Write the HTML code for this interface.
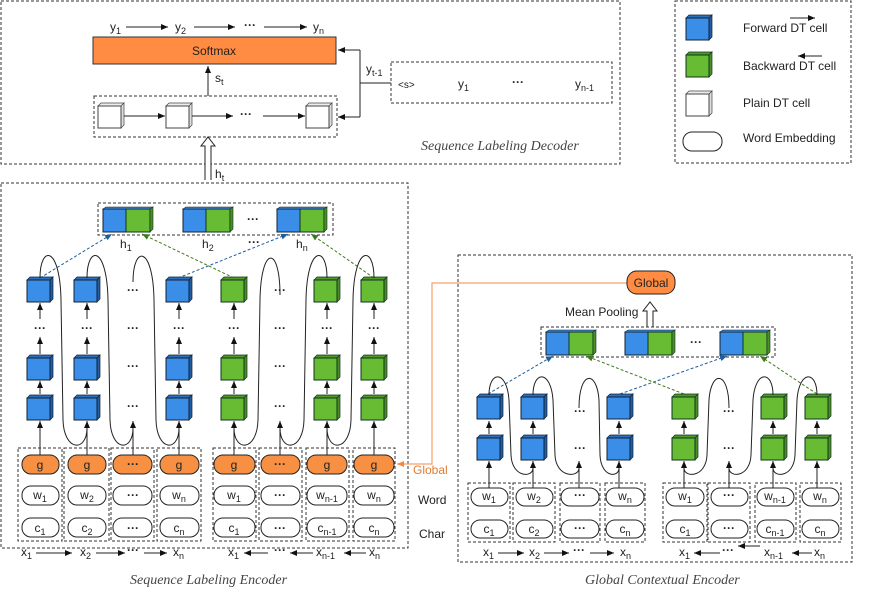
<!DOCTYPE html>
<html><head><meta charset="utf-8"><style>
body{margin:0;background:#fff}
svg{display:block;font-family:"Liberation Sans",sans-serif}
.t{font-size:12px;fill:#222}
.s{font-size:9px}
.b{font-weight:bold}
.it{font-family:"Liberation Serif",serif;font-style:italic;font-size:14px;fill:#444}
.dash{fill:none;stroke:#333;stroke-width:1;stroke-dasharray:3,2}
.ln{stroke:#222;stroke-width:1;fill:none}
.loop{stroke:#222;stroke-width:1;fill:none}
.pill{fill:#fff;stroke:#222;stroke-width:1}
.og{fill:#F79043;stroke:#222;stroke-width:1}
</style></head><body>
<svg width="872" height="593" viewBox="0 0 872 593" xmlns="http://www.w3.org/2000/svg">
<defs>
<marker id="a" markerWidth="8" markerHeight="8" refX="7" refY="4" orient="auto" markerUnits="userSpaceOnUse"><path d="M0,1 L7,4 L0,7 z" fill="#111"/></marker>
<marker id="ab" markerWidth="8" markerHeight="8" refX="7" refY="4" orient="auto" markerUnits="userSpaceOnUse"><path d="M0,1 L7,4 L0,7 z" fill="#1f5e9e"/></marker>
<marker id="ag" markerWidth="8" markerHeight="8" refX="7" refY="4" orient="auto" markerUnits="userSpaceOnUse"><path d="M0,1 L7,4 L0,7 z" fill="#3f7a1c"/></marker>
<marker id="ao" markerWidth="8" markerHeight="8" refX="7" refY="4" orient="auto" markerUnits="userSpaceOnUse"><path d="M0,1 L7,4 L0,7 z" fill="#F08A40"/></marker>
<g id="cb"><polygon points="0,3 3,0 26,0 23,3" fill="#2a6fc0" stroke="#123" stroke-width=".7"/><polygon points="23,3 26,0 26,22 23,25" fill="#1f5ea8" stroke="#123" stroke-width=".7"/><rect x="0" y="3" width="23" height="22" fill="#3A8EE8" stroke="#123" stroke-width="1"/></g>
<g id="cg"><polygon points="0,3 3,0 26,0 23,3" fill="#4f9a25" stroke="#132" stroke-width=".7"/><polygon points="23,3 26,0 26,22 23,25" fill="#4a8f22" stroke="#132" stroke-width=".7"/><rect x="0" y="3" width="23" height="22" fill="#68BC34" stroke="#132" stroke-width="1"/></g>
<g id="cw"><polygon points="0,3 3,0 26,0 23,3" fill="#eee" stroke="#444" stroke-width=".7"/><polygon points="23,3 26,0 26,22 23,25" fill="#ddd" stroke="#444" stroke-width=".7"/><rect x="0" y="3" width="23" height="22" fill="#fff" stroke="#444" stroke-width="1"/></g>
<g id="pb"><rect x="0" y="2" width="23" height="23" fill="#3A8EE8" stroke="#123"/><rect x="23" y="2" width="24" height="23" fill="#68BC34" stroke="#132"/><polygon points="0,2 3,0 50,0 47,2" fill="#3a7fc8" stroke="#123" stroke-width=".6"/><polygon points="47,2 50,0 50,22 47,25" fill="#4a8f22" stroke="#132" stroke-width=".6"/></g>
</defs>

<!-- ===== Decoder ===== -->
<rect class="dash" x="1" y="1" width="619" height="163"/>
<text class="t" x="110" y="31">y<tspan class="s" dy="3">1</tspan></text>
<line class="ln" x1="126" y1="27" x2="168" y2="27" marker-end="url(#a)"/>
<text class="t" x="175" y="31">y<tspan class="s" dy="3">2</tspan></text>
<line class="ln" x1="194" y1="27" x2="235" y2="27" marker-end="url(#a)"/>
<text class="t b" x="244" y="29">···</text>
<line class="ln" x1="264" y1="27" x2="307" y2="27" marker-end="url(#a)"/>
<text class="t" x="313" y="31">y<tspan class="s" dy="3">n</tspan></text>
<rect x="93" y="37" width="243" height="27" fill="#FF8C42" stroke="#333"/>
<text class="t" x="214" y="55" text-anchor="middle">Softmax</text>
<line class="ln" x1="208" y1="96" x2="208" y2="66" marker-end="url(#a)"/>
<text class="t" x="215" y="82">s<tspan class="s" dy="3">t</tspan></text>
<rect class="dash" x="94" y="96" width="243" height="41"/>
<use href="#cw" x="98" y="103"/><use href="#cw" x="166" y="103"/><use href="#cw" x="306" y="103"/>
<line class="ln" x1="124" y1="116" x2="165" y2="116" marker-end="url(#a)"/>
<line class="ln" x1="192" y1="116" x2="233" y2="116" marker-end="url(#a)"/>
<text class="t b" x="240" y="118">···</text>
<line class="ln" x1="263" y1="116" x2="305" y2="116" marker-end="url(#a)"/>
<path class="ln" d="M360,50 L360,117"/>
<line class="ln" x1="360" y1="50" x2="338" y2="50" marker-end="url(#a)"/>
<line class="ln" x1="360" y1="117" x2="338" y2="117" marker-end="url(#a)"/>
<line class="ln" x1="360" y1="83" x2="391" y2="83"/>
<text class="t" x="366" y="73">y<tspan class="s" dy="3">t-1</tspan></text>
<rect class="dash" x="391" y="62" width="221" height="41"/>
<text x="398" y="88" style="font-size:10px" fill="#222">&lt;s&gt;</text>
<text class="t" x="458" y="88">y<tspan class="s" dy="3">1</tspan></text>
<text class="t b" x="512" y="86">···</text>
<text class="t" x="575" y="88">y<tspan class="s" dy="3">n-1</tspan></text>
<text class="it" x="421" y="150">Sequence Labeling Decoder</text>
<path d="M205,180 L205,146 L201,146 L208,137 L215,146 L211,146 L211,180" fill="#fff" stroke="#222"/>
<text class="t" x="215" y="178">h<tspan class="s" dy="3">t</tspan></text>

<!-- ===== Legend ===== -->
<rect class="dash" x="675" y="1" width="176" height="162"/>
<use href="#cb" x="686" y="15"/><use href="#cg" x="686" y="52"/><use href="#cw" x="686" y="91"/>
<rect class="pill" x="683" y="132" width="39" height="19" rx="9"/>
<text class="t" x="743" y="32">Forward DT cell</text>
<line class="ln" x1="790" y1="18" x2="815" y2="18" marker-end="url(#a)"/>
<text class="t" x="743" y="70">Backward DT cell</text>
<line class="ln" x1="822" y1="56" x2="798" y2="56" marker-end="url(#a)"/>
<text class="t" x="743" y="107">Plain DT cell</text>
<text class="t" x="743" y="142">Word Embedding</text>

<!-- ===== Sequence Labeling Encoder ===== -->
<rect class="dash" x="1" y="183" width="407" height="365"/>
<rect class="dash" x="98" y="203" width="235" height="32"/>
<use href="#pb" x="103" y="207"/><use href="#pb" x="183" y="207"/><use href="#pb" x="277" y="207"/>
<text class="t b" x="247" y="223">···</text>
<text class="t" x="120" y="248">h<tspan class="s" dy="3">1</tspan></text>
<text class="t" x="202" y="248">h<tspan class="s" dy="3">2</tspan></text>
<text class="t b" x="248" y="246">···</text>
<text class="t" x="296" y="248">h<tspan class="s" dy="3">n</tspan></text>
<line x1="40" y1="278" x2="112" y2="234" stroke="#1f5e9e" stroke-dasharray="3,2" marker-end="url(#ab)"/>
<line x1="178" y1="278" x2="288" y2="234" stroke="#1f5e9e" stroke-dasharray="3,2" marker-end="url(#ab)"/>
<line x1="234" y1="278" x2="142" y2="234" stroke="#3f7a1c" stroke-dasharray="3,2" marker-end="url(#ag)"/>
<line x1="374" y1="278" x2="311" y2="234" stroke="#3f7a1c" stroke-dasharray="3,2" marker-end="url(#ag)"/>
<g>
<use href="#cb" x="27" y="277"/><use href="#cb" x="27" y="355"/><use href="#cb" x="27" y="395"/>
<use href="#cb" x="74" y="277"/><use href="#cb" x="74" y="355"/><use href="#cb" x="74" y="395"/>
<use href="#cb" x="166" y="277"/><use href="#cb" x="166" y="355"/><use href="#cb" x="166" y="395"/>
<use href="#cg" x="221" y="277"/><use href="#cg" x="221" y="355"/><use href="#cg" x="221" y="395"/>
<use href="#cg" x="314" y="277"/><use href="#cg" x="314" y="355"/><use href="#cg" x="314" y="395"/>
<use href="#cg" x="361" y="277"/><use href="#cg" x="361" y="355"/><use href="#cg" x="361" y="395"/>
</g>
<g class="t b" text-anchor="middle">
<text x="40" y="332">···</text><text x="87" y="332">···</text><text x="179" y="332">···</text>
<text x="234" y="332">···</text><text x="327" y="332">···</text><text x="374" y="332">···</text>
<text x="133" y="294">···</text><text x="133" y="332">···</text><text x="133" y="370">···</text><text x="133" y="410">···</text>
<text x="280" y="294">···</text><text x="280" y="332">···</text><text x="280" y="370">···</text><text x="280" y="410">···</text>
</g>
<g>
<path class="ln" d="M40,319 L40,303" marker-end="url(#a)"/><path class="ln" d="M40,354 L40,337" marker-end="url(#a)"/><path class="ln" d="M40,394 L40,381" marker-end="url(#a)"/><path class="ln" d="M40,455 L40,421" marker-end="url(#a)"/>
<path class="ln" d="M87,319 L87,303" marker-end="url(#a)"/><path class="ln" d="M87,354 L87,337" marker-end="url(#a)"/><path class="ln" d="M87,394 L87,381" marker-end="url(#a)"/><path class="ln" d="M87,455 L87,421" marker-end="url(#a)"/>
<path class="ln" d="M133,455 L133,421" marker-end="url(#a)"/>
<path class="ln" d="M179,319 L179,303" marker-end="url(#a)"/><path class="ln" d="M179,354 L179,337" marker-end="url(#a)"/><path class="ln" d="M179,394 L179,381" marker-end="url(#a)"/><path class="ln" d="M179,455 L179,421" marker-end="url(#a)"/>
<path class="ln" d="M234,319 L234,303" marker-end="url(#a)"/><path class="ln" d="M234,354 L234,337" marker-end="url(#a)"/><path class="ln" d="M234,394 L234,381" marker-end="url(#a)"/><path class="ln" d="M234,455 L234,421" marker-end="url(#a)"/>
<path class="ln" d="M280,455 L280,421" marker-end="url(#a)"/>
<path class="ln" d="M327,319 L327,303" marker-end="url(#a)"/><path class="ln" d="M327,354 L327,337" marker-end="url(#a)"/><path class="ln" d="M327,394 L327,381" marker-end="url(#a)"/><path class="ln" d="M327,455 L327,421" marker-end="url(#a)"/>
<path class="ln" d="M374,319 L374,303" marker-end="url(#a)"/><path class="ln" d="M374,354 L374,337" marker-end="url(#a)"/><path class="ln" d="M374,394 L374,381" marker-end="url(#a)"/><path class="ln" d="M374,455 L374,421" marker-end="url(#a)"/>
</g>
<g class="loop">
<path d="M40,278 C40,245 60,245 61,300 L63,420 C64,452 87,452 87,428"/>
<path d="M87,278 C87,245 107,245 108,300 L110,420 C111,452 133,452 133,428"/>
<path d="M133,282 C133,245 153,245 154,300 L156,420 C157,452 179,452 179,428"/>
<path d="M280,295 C280,245 261,245 260,300 L258,420 C257,452 234,452 234,428"/>
<path d="M327,278 C327,245 307,245 306,300 L304,420 C303,452 280,452 280,428"/>
<path d="M374,278 C374,245 354,245 353,300 L351,420 C350,452 327,452 327,428"/>
</g>
<g>
<rect class="dash" x="18" y="448" width="44" height="93"/><rect class="dash" x="64" y="448" width="45" height="93"/><rect class="dash" x="111" y="448" width="43" height="93"/><rect class="dash" x="157" y="448" width="44" height="93"/>
<rect class="dash" x="213" y="448" width="43" height="93"/><rect class="dash" x="259" y="448" width="43" height="93"/><rect class="dash" x="306" y="448" width="43" height="93"/><rect class="dash" x="353" y="448" width="42" height="93"/>
</g>
<g>
<rect class="og" x="22" y="455" width="37" height="19" rx="9"/><rect class="og" x="68" y="455" width="38" height="19" rx="9"/><rect class="og" x="113" y="455" width="39" height="19" rx="9"/><rect class="og" x="160" y="455" width="39" height="19" rx="9"/>
<rect class="og" x="214" y="455" width="41" height="19" rx="9"/><rect class="og" x="261" y="455" width="39" height="19" rx="9"/><rect class="og" x="307" y="455" width="40" height="19" rx="9"/><rect class="og" x="354" y="455" width="40" height="19" rx="9"/>
<rect class="pill" x="22" y="486" width="37" height="19" rx="9"/><rect class="pill" x="68" y="486" width="38" height="19" rx="9"/><rect class="pill" x="113" y="486" width="39" height="19" rx="9"/><rect class="pill" x="160" y="486" width="39" height="19" rx="9"/>
<rect class="pill" x="214" y="486" width="41" height="19" rx="9"/><rect class="pill" x="261" y="486" width="39" height="19" rx="9"/><rect class="pill" x="307" y="486" width="40" height="19" rx="9"/><rect class="pill" x="354" y="486" width="40" height="19" rx="9"/>
<rect class="pill" x="22" y="518" width="37" height="19" rx="9"/><rect class="pill" x="68" y="518" width="38" height="19" rx="9"/><rect class="pill" x="113" y="518" width="39" height="19" rx="9"/><rect class="pill" x="160" y="518" width="39" height="19" rx="9"/>
<rect class="pill" x="214" y="518" width="41" height="19" rx="9"/><rect class="pill" x="261" y="518" width="39" height="19" rx="9"/><rect class="pill" x="307" y="518" width="40" height="19" rx="9"/><rect class="pill" x="354" y="518" width="40" height="19" rx="9"/>
</g>
<g class="t" text-anchor="middle">
<text x="40" y="469">g</text><text x="87" y="469">g</text><text class="b" x="133" y="468">···</text><text x="179" y="469">g</text>
<text x="234" y="469">g</text><text class="b" x="280" y="468">···</text><text x="327" y="469">g</text><text x="374" y="469">g</text>
<text x="40" y="499">w<tspan class="s" dy="3">1</tspan></text><text x="87" y="499">w<tspan class="s" dy="3">2</tspan></text><text class="b" x="133" y="499">···</text><text x="179" y="499">w<tspan class="s" dy="3">n</tspan></text>
<text x="234" y="499">w<tspan class="s" dy="3">1</tspan></text><text class="b" x="280" y="499">···</text><text x="327" y="499">w<tspan class="s" dy="3">n-1</tspan></text><text x="374" y="499">w<tspan class="s" dy="3">n</tspan></text>
<text x="40" y="532">c<tspan class="s" dy="3">1</tspan></text><text x="87" y="532">c<tspan class="s" dy="3">2</tspan></text><text class="b" x="133" y="532">···</text><text x="179" y="532">c<tspan class="s" dy="3">n</tspan></text>
<text x="234" y="532">c<tspan class="s" dy="3">1</tspan></text><text class="b" x="280" y="532">···</text><text x="327" y="532">c<tspan class="s" dy="3">n-1</tspan></text><text x="374" y="532">c<tspan class="s" dy="3">n</tspan></text>
</g>
<g class="t">
<text x="21" y="556">x<tspan class="s" dy="3">1</tspan></text><line class="ln" x1="36" y1="553" x2="72" y2="553" marker-end="url(#a)"/>
<text x="80" y="556">x<tspan class="s" dy="3">2</tspan></text><line class="ln" x1="96" y1="553" x2="125" y2="553" marker-end="url(#a)"/>
<text class="b" x="127" y="554">···</text><line class="ln" x1="144" y1="553" x2="167" y2="553" marker-end="url(#a)"/>
<text x="173" y="556">x<tspan class="s" dy="3">n</tspan></text>
<text x="228" y="556">x<tspan class="s" dy="3">1</tspan></text><line class="ln" x1="268" y1="553" x2="244" y2="553" marker-end="url(#a)"/>
<text class="b" x="274" y="554">···</text><line class="ln" x1="313" y1="553" x2="290" y2="553" marker-end="url(#a)"/>
<text x="316" y="556">x<tspan class="s" dy="3">n-1</tspan></text><line class="ln" x1="366" y1="553" x2="344" y2="553" marker-end="url(#a)"/>
<text x="369" y="556">x<tspan class="s" dy="3">n</tspan></text>
</g>
<text class="t" x="418" y="504">Word</text>
<text class="t" x="419" y="538">Char</text>
<text x="413" y="474" style="font-size:12px" fill="#E07A30">Global</text>
<text class="it" x="130" y="584">Sequence Labeling Encoder</text>
<path d="M627,283 L432,283 L432,464 L397,464" fill="none" stroke="#F5A06A" stroke-width="1.2" marker-end="url(#ao)"/>

<!-- ===== Global Contextual Encoder ===== -->
<rect class="dash" x="458" y="255" width="394" height="307"/>
<rect x="627" y="271" width="48" height="23" rx="10" fill="#FF8C42" stroke="#222"/>
<text class="t" x="651" y="287" text-anchor="middle">Global</text>
<text class="t" x="565" y="316">Mean Pooling</text>
<path d="M647,327 L647,311 L643,311 L650,302 L657,311 L653,311 L653,327" fill="#fff" stroke="#222"/>
<rect class="dash" x="541" y="327" width="234" height="30"/>
<use href="#pb" x="546" y="330"/><use href="#pb" x="625" y="330"/><use href="#pb" x="720" y="330"/>
<text class="t b" x="690" y="346">···</text>
<line x1="488" y1="394" x2="553" y2="356" stroke="#1f5e9e" stroke-dasharray="3,2" marker-end="url(#ab)"/>
<line x1="620" y1="394" x2="727" y2="356" stroke="#1f5e9e" stroke-dasharray="3,2" marker-end="url(#ab)"/>
<line x1="684" y1="394" x2="586" y2="356" stroke="#3f7a1c" stroke-dasharray="3,2" marker-end="url(#ag)"/>
<line x1="817" y1="394" x2="760" y2="356" stroke="#3f7a1c" stroke-dasharray="3,2" marker-end="url(#ag)"/>
<g>
<use href="#cb" x="477" y="394"/><use href="#cb" x="477" y="435"/>
<use href="#cb" x="521" y="394"/><use href="#cb" x="521" y="435"/>
<use href="#cb" x="607" y="394"/><use href="#cb" x="607" y="435"/>
<use href="#cg" x="672" y="394"/><use href="#cg" x="672" y="435"/>
<use href="#cg" x="761" y="394"/><use href="#cg" x="761" y="435"/>
<use href="#cg" x="805" y="394"/><use href="#cg" x="805" y="435"/>
</g>
<g class="t b" text-anchor="middle">
<text x="580" y="415">···</text><text x="580" y="452">···</text>
<text x="729" y="415">···</text><text x="729" y="452">···</text>
</g>
<g>
<path class="ln" d="M489,434 L489,421" marker-end="url(#a)"/><path class="ln" d="M489,488 L489,461" marker-end="url(#a)"/>
<path class="ln" d="M533,434 L533,421" marker-end="url(#a)"/><path class="ln" d="M533,488 L533,461" marker-end="url(#a)"/>
<path class="ln" d="M579,488 L579,461" marker-end="url(#a)"/>
<path class="ln" d="M619,434 L619,421" marker-end="url(#a)"/><path class="ln" d="M619,488 L619,461" marker-end="url(#a)"/>
<path class="ln" d="M684,434 L684,421" marker-end="url(#a)"/><path class="ln" d="M684,488 L684,461" marker-end="url(#a)"/>
<path class="ln" d="M729,488 L729,461" marker-end="url(#a)"/>
<path class="ln" d="M773,434 L773,421" marker-end="url(#a)"/><path class="ln" d="M773,488 L773,461" marker-end="url(#a)"/>
<path class="ln" d="M817,434 L817,421" marker-end="url(#a)"/><path class="ln" d="M817,488 L817,461" marker-end="url(#a)"/>
</g>
<g class="loop">
<path d="M489,395 C489,370 507,370 509,400 L511,455 C512,478 533,478 533,468"/>
<path d="M533,395 C533,370 551,370 553,400 L555,455 C556,478 579,478 579,468"/>
<path d="M579,408 C579,370 597,370 599,400 L600,455 C601,478 619,478 619,468"/>
<path d="M729,408 C729,370 711,370 709,400 L707,455 C706,478 684,478 684,468"/>
<path d="M773,395 C773,370 755,370 753,400 L751,455 C750,478 729,478 729,468"/>
<path d="M817,395 C817,370 799,370 797,400 L795,455 C794,478 773,478 773,468"/>
</g>
<g>
<rect class="dash" x="468" y="483" width="42" height="59"/><rect class="dash" x="513" y="483" width="42" height="59"/><rect class="dash" x="560" y="483" width="40" height="59"/><rect class="dash" x="605" y="483" width="40" height="59"/>
<rect class="dash" x="663" y="483" width="44" height="59"/><rect class="dash" x="708" y="483" width="42" height="59"/><rect class="dash" x="755" y="483" width="41" height="59"/><rect class="dash" x="800" y="483" width="41" height="59"/>
<rect class="pill" x="471" y="488" width="37" height="18" rx="9"/><rect class="pill" x="516" y="488" width="37" height="18" rx="9"/><rect class="pill" x="561" y="488" width="38" height="18" rx="9"/><rect class="pill" x="606" y="488" width="38" height="18" rx="9"/>
<rect class="pill" x="666" y="488" width="38" height="18" rx="9"/><rect class="pill" x="711" y="488" width="37" height="18" rx="9"/><rect class="pill" x="757" y="488" width="37" height="18" rx="9"/><rect class="pill" x="802" y="488" width="37" height="18" rx="9"/>
<rect class="pill" x="471" y="520" width="37" height="18" rx="9"/><rect class="pill" x="516" y="520" width="37" height="18" rx="9"/><rect class="pill" x="561" y="520" width="38" height="18" rx="9"/><rect class="pill" x="606" y="520" width="38" height="18" rx="9"/>
<rect class="pill" x="666" y="520" width="38" height="18" rx="9"/><rect class="pill" x="711" y="520" width="37" height="18" rx="9"/><rect class="pill" x="757" y="520" width="37" height="18" rx="9"/><rect class="pill" x="802" y="520" width="37" height="18" rx="9"/>
</g>
<g class="t" text-anchor="middle">
<text x="489" y="500">w<tspan class="s" dy="3">1</tspan></text><text x="534" y="500">w<tspan class="s" dy="3">2</tspan></text><text class="b" x="580" y="499">···</text><text x="625" y="500">w<tspan class="s" dy="3">n</tspan></text>
<text x="685" y="500">w<tspan class="s" dy="3">1</tspan></text><text class="b" x="729" y="499">···</text><text x="775" y="500">w<tspan class="s" dy="3">n-1</tspan></text><text x="820" y="500">w<tspan class="s" dy="3">n</tspan></text>
<text x="489" y="533">c<tspan class="s" dy="3">1</tspan></text><text x="534" y="533">c<tspan class="s" dy="3">2</tspan></text><text class="b" x="580" y="532">···</text><text x="625" y="533">c<tspan class="s" dy="3">n</tspan></text>
<text x="685" y="533">c<tspan class="s" dy="3">1</tspan></text><text class="b" x="729" y="532">···</text><text x="775" y="533">c<tspan class="s" dy="3">n-1</tspan></text><text x="820" y="533">c<tspan class="s" dy="3">n</tspan></text>
</g>
<g class="t">
<text x="483" y="556">x<tspan class="s" dy="3">1</tspan></text><line class="ln" x1="498" y1="553" x2="524" y2="553" marker-end="url(#a)"/>
<text x="529" y="556">x<tspan class="s" dy="3">2</tspan></text><line class="ln" x1="544" y1="553" x2="569" y2="553" marker-end="url(#a)"/>
<text class="b" x="573" y="554">···</text><line class="ln" x1="590" y1="553" x2="614" y2="553" marker-end="url(#a)"/>
<text x="620" y="556">x<tspan class="s" dy="3">n</tspan></text>
<text x="679" y="556">x<tspan class="s" dy="3">1</tspan></text><line class="ln" x1="720" y1="553" x2="694" y2="553" marker-end="url(#a)"/>
<text class="b" x="722" y="554">···</text><line class="ln" x1="760" y1="546" x2="738" y2="546" marker-end="url(#a)"/>
<text x="764" y="556">x<tspan class="s" dy="3">n-1</tspan></text><line class="ln" x1="812" y1="553" x2="792" y2="553" marker-end="url(#a)"/>
<text x="814" y="556">x<tspan class="s" dy="3">n</tspan></text>
</g>
<text class="it" x="585" y="584">Global Contextual Encoder</text>
</svg>
</body></html>
